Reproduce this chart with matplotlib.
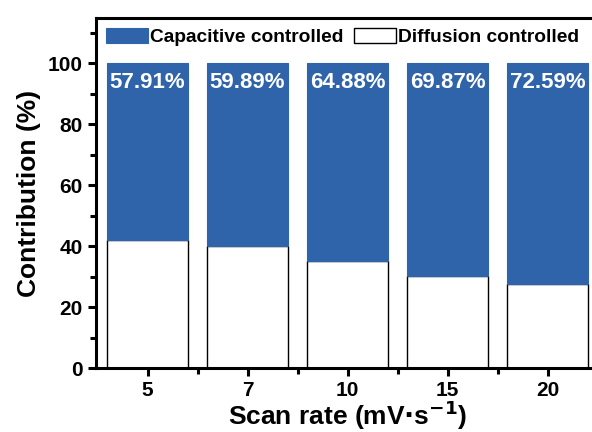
import matplotlib
matplotlib.use("Agg")
import matplotlib.pyplot as plt
import numpy as np
from matplotlib.ticker import MultipleLocator

# data
scan_rates = ['5', '7', '10', '15', '20']
capacitive = [57.91, 59.89, 64.88, 69.87, 72.59]
diffusion = [100 - c for c in capacitive]

plt.rcParams['font.family'] = ['Liberation Sans', 'DejaVu Sans']
plt.rcParams['font.weight'] = 'bold'
plt.rcParams['mathtext.default'] = 'bf'

blue = '#2f64ab'

fig = plt.figure(figsize=(5.92, 4.32), dpi=100)
ax = fig.add_axes([96 / 592, 1 - 368 / 432, 503 / 592, 350 / 432])

x = np.arange(len(scan_rates))
ax.bar(x, diffusion, width=0.81, color='white', edgecolor='black', linewidth=1.0,
       label='Diffusion controlled')
ax.bar(x, capacitive, width=0.81, bottom=diffusion, color=blue, edgecolor=blue,
       linewidth=0.8, label='Capacitive controlled')

for xi, c in zip(x, capacitive):
    ax.text(xi, 93.6, f'{c:.2f}%', color='white', ha='center', va='center',
            fontsize=16, fontweight='bold')

ax.set_xlim(-0.515, 4.515)
ax.set_ylim(0, 114.8)
ax.set_xticks(x)
ax.set_xticklabels(scan_rates)
ax.set_xticks(x[:-1] + 0.5, minor=True)
ax.yaxis.set_major_locator(MultipleLocator(20))
ax.yaxis.set_minor_locator(MultipleLocator(10))
ax.tick_params(which='major', direction='out', length=6, width=2.2, labelsize=15)
ax.tick_params(which='minor', direction='out', length=4, width=2.2)
for lab in ax.get_xticklabels() + ax.get_yticklabels():
    lab.set_fontweight('bold')
for s in ax.spines.values():
    s.set_linewidth(2.2)

ax.set_xlabel('Scan rate (mV$\\cdot$s$^{\\mathsf{-1}}$)', fontsize=19, fontweight='bold', labelpad=-1)
ax.set_ylabel('Contribution (%)', fontsize=19, fontweight='bold', labelpad=5)

h, l = ax.get_legend_handles_labels()
leg = ax.legend(h[::-1], l[::-1], loc='upper left', bbox_to_anchor=(0.0, 1.0), ncol=2,
                frameon=False, fontsize=13.8, handlelength=2.2, handleheight=0.9,
                handletextpad=0.1, columnspacing=0.55, borderaxespad=0.1)
for t in leg.get_texts():
    t.set_fontweight('bold')

fig.savefig('out.png', dpi=100)
